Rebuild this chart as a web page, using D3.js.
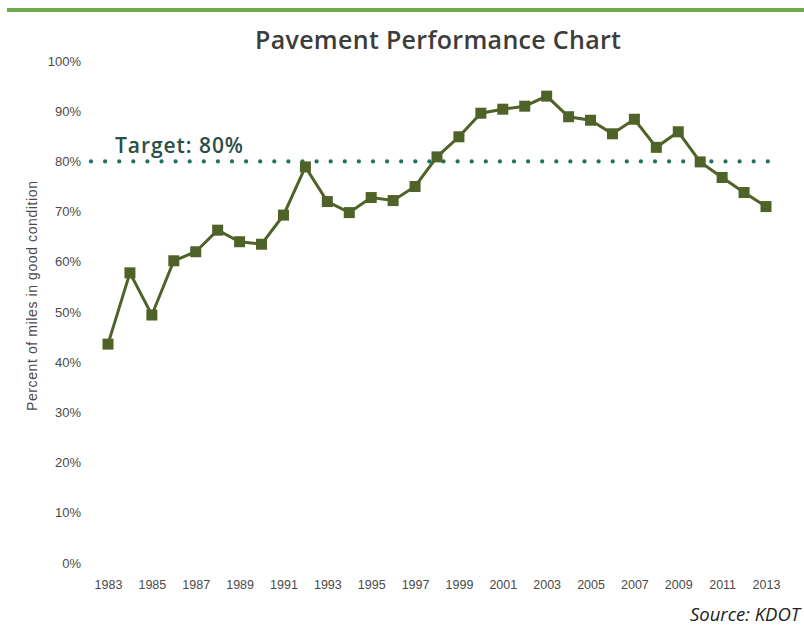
<!DOCTYPE html>
<html>
<head>
<meta charset="utf-8">
<script src="https://cdn.jsdelivr.net/npm/d3@7"></script>
<style>
  body { margin: 0; background: #fff; }
  svg { display: block; }
</style>
</head>
<body>
<svg id="chart"></svg>
<script>
// data
const years = d3.range(1983, 2014);
const percentGood = [43.6, 57.8, 49.4, 60.2, 62.0, 66.3, 64.0, 63.5, 69.3, 78.9,
                     72.0, 69.8, 72.8, 72.2, 75.0, 80.9, 84.9, 89.6, 90.4, 91.0,
                     93.0, 88.9, 88.2, 85.5, 88.4, 82.8, 85.9, 79.9, 76.8, 73.8, 71.0];
const target = 80;
const yTicks = [0, 10, 20, 30, 40, 50, 60, 70, 80, 90, 100];
const xTickYears = d3.range(1983, 2014, 2);

const W = 804, H = 627;
const svg = d3.select("#chart").attr("width", W).attr("height", H);

const x = d3.scaleLinear().domain([1983, 2013]).range([108, 766]);
const y = d3.scaleLinear().domain([0, 100]).range([563, 61]);

// green rule across the top
svg.append("rect")
    .attr("x", 7).attr("y", 8)
    .attr("width", W - 7).attr("height", 4)
    .attr("fill", "#70a84c");

svg.append("text")
    .attr("x", 438).attr("y", 49)
    .attr("text-anchor", "middle")
    .attr("font-family", "Open Sans, sans-serif")
    .attr("font-weight", 600)
    .attr("font-size", 25)
    .attr("textLength", 366)
    .attr("fill", "#3c3c3c")
    .text("Pavement Performance Chart");

// y axis labels (no axis line)
const yAxis = svg.append("g")
    .attr("transform", "translate(81,0)")
    .call(d3.axisLeft(y).tickValues(yTicks).tickSize(0).tickPadding(0)
        .tickFormat(d => d + "%"));
yAxis.select(".domain").remove();
yAxis.selectAll("text")
    .attr("font-family", "Liberation Sans, Arial, sans-serif")
    .attr("font-size", 13)
    .attr("fill", "#4a4a4a");

const xAxis = svg.append("g")
    .attr("transform", "translate(0,577)")
    .call(d3.axisBottom(x).tickValues(xTickYears).tickSize(0).tickPadding(3)
        .tickFormat(d3.format("d")));
xAxis.select(".domain").remove();
xAxis.selectAll("text")
    .attr("font-family", "Liberation Sans, Arial, sans-serif")
    .attr("font-size", 12.5)
    .attr("fill", "#4a4a4a");

svg.append("text")
    .attr("transform", `translate(37,${y(50) - 16}) rotate(-90)`)
    .attr("text-anchor", "middle")
    .attr("font-family", "Liberation Sans, Arial, sans-serif")
    .attr("font-size", 14)
    .attr("textLength", 230)
    .attr("fill", "#4a4a4a")
    .text("Percent of miles in good condition");

// target dotted line
const dotXs = d3.range(91, 776, 14.1);
svg.append("g").selectAll("circle")
    .data(dotXs)
    .enter()
    .append("circle")
    .attr("cx", d => d)
    .attr("cy", y(target))
    .attr("r", 2.1)
    .attr("fill", "#1f7262");

svg.append("text")
    .attr("x", 115).attr("y", y(target) - 8)
    .attr("font-family", "Open Sans, sans-serif")
    .attr("font-weight", 600)
    .attr("font-size", 21)
    .attr("textLength", 128)
    .attr("fill", "#2b4f44")
    .text("Target: " + target + "%");

const line = d3.line()
    .x((d, i) => x(years[i]))
    .y(d => y(d));

svg.append("path")
    .datum(percentGood)
    .attr("d", line)
    .attr("fill", "none")
    .attr("stroke", "#4f6228")
    .attr("stroke-width", 3);

const s = 11;
svg.append("g").selectAll("rect")
    .data(percentGood)
    .enter()
    .append("rect")
    .attr("x", (d, i) => x(years[i]) - s / 2)
    .attr("y", d => y(d) - s / 2)
    .attr("width", s).attr("height", s)
    .attr("fill", "#4f6228");

svg.append("text")
    .attr("x", 800).attr("y", 621)
    .attr("text-anchor", "end")
    .attr("font-family", "Open Sans, sans-serif")
    .attr("font-style", "italic")
    .attr("font-size", 18.5)
    .attr("fill", "#222")
    .text("Source: KDOT");
</script>
</body>
</html>
